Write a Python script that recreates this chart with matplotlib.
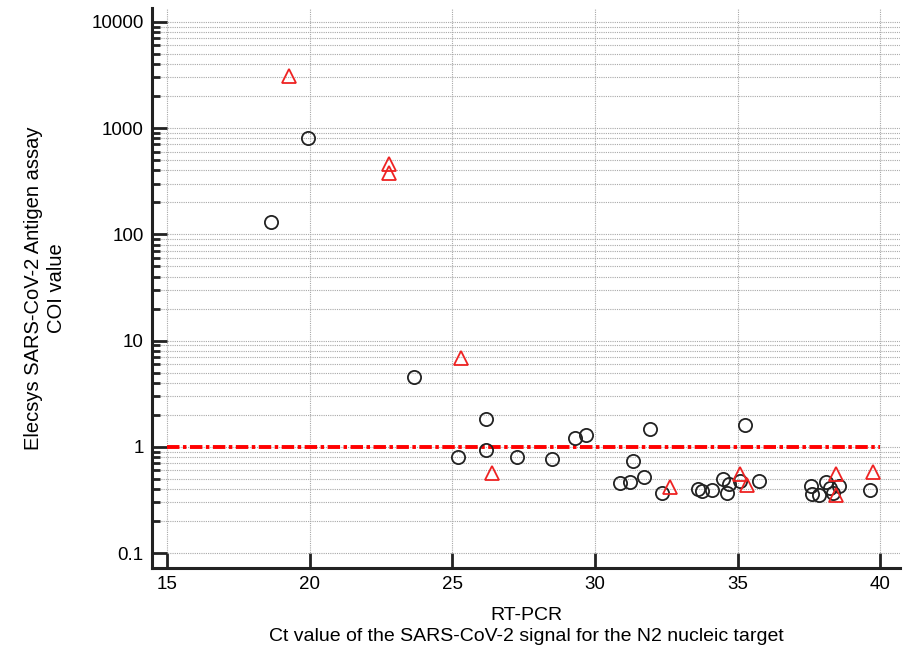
import numpy as np
import matplotlib.pyplot as plt
from matplotlib.ticker import FixedLocator, NullFormatter

plt.rcParams['font.family'] = ['Liberation Sans', 'DejaVu Sans']

# circles (black)
circ_ct = [18.65, 19.95, 23.67, 26.19, 26.19, 25.19, 27.28, 28.50, 29.31, 29.69,
           31.91, 31.32, 30.88, 31.23, 31.70, 32.33, 33.62, 33.74, 34.11, 34.48,
           34.64, 34.71, 35.08, 35.24, 35.73, 37.57, 37.62, 37.86, 38.10, 38.24,
           38.35, 38.54, 39.65]
circ_coi = [130, 800, 4.5, 1.83, 0.93, 0.80, 0.80, 0.77, 1.22, 1.29,
            1.48, 0.73, 0.46, 0.47, 0.52, 0.37, 0.40, 0.385, 0.39, 0.50,
            0.37, 0.45, 0.48, 1.59, 0.48, 0.43, 0.36, 0.35, 0.47, 0.41,
            0.37, 0.43, 0.39]

# triangles (red)
tri_ct = [19.26, 22.78, 22.78, 25.31, 26.39, 32.62, 35.08, 35.32, 38.43, 38.43, 39.74]
tri_coi = [3070, 462, 378, 6.9, 0.565, 0.42, 0.557, 0.44, 0.55, 0.35, 0.585]

cutoff = 1.0
x_ticks = [15, 20, 25, 30, 35, 40]
y_ticks = [0.1, 1, 10, 100, 1000, 10000]
y_labels = ['0.1', '1', '10', '100', '1000', '10000']

# minor ticks 2..9 in each decade between 0.1 and 10000
minor_y = [m * 10.0 ** e for e in range(-1, 4) for m in range(2, 10)]

fig = plt.figure(figsize=(9.04, 6.59), dpi=100)
ax = fig.add_axes([0.168, 0.138, 0.828, 0.850])

ax.set_yscale('log')
ax.set_xlim(14.47, 40.7)
ax.set_ylim(0.0723, 13500)

ax.set_xticks(x_ticks)
ax.set_xticklabels([str(t) for t in x_ticks])
ax.yaxis.set_major_locator(FixedLocator(y_ticks))
ax.set_yticklabels(y_labels)
ax.yaxis.set_minor_locator(FixedLocator(minor_y))
ax.yaxis.set_minor_formatter(NullFormatter())

ax.grid(True, which='both', axis='y', color='#a8a8a8', linestyle=(0, (1, 1)), linewidth=0.8)
ax.grid(True, which='major', axis='x', color='#a8a8a8', linestyle=(0, (1, 1)), linewidth=0.8)
ax.set_axisbelow(True)

for s in ['top', 'right']:
    ax.spines[s].set_visible(False)
for s in ['left', 'bottom']:
    ax.spines[s].set_linewidth(2.2)
    ax.spines[s].set_color('#222222')

ax.tick_params(axis='both', which='major', direction='in', length=11, width=2,
               color='#222222', labelsize=13.5, pad=6)
ax.tick_params(axis='y', which='minor', direction='in', length=6, width=2, color='#222222')

ax.plot([15, 40], [cutoff, cutoff], color='red', linewidth=2.8,
        linestyle=(0, (3.2, 0.9, 0.9, 0.9)), zorder=2)

ax.plot(circ_ct, circ_coi, linestyle='none', marker='o', markersize=9.5,
        markerfacecolor='none', markeredgecolor='#222222', markeredgewidth=1.3, zorder=3)
ax.plot(tri_ct, tri_coi, linestyle='none', marker='^', markersize=10.5,
        markerfacecolor='none', markeredgecolor='#ee2222', markeredgewidth=1.3, zorder=4)

ax.set_xlabel('RT-PCR\nCt value of the SARS-CoV-2 signal for the N2 nucleic target',
              fontsize=14, labelpad=10, linespacing=1.3)
ax.set_ylabel('Elecsys SARS-CoV-2 Antigen assay\nCOI value', fontsize=14.5,
              labelpad=18, linespacing=1.3)

fig.savefig('out.png', dpi=100)
